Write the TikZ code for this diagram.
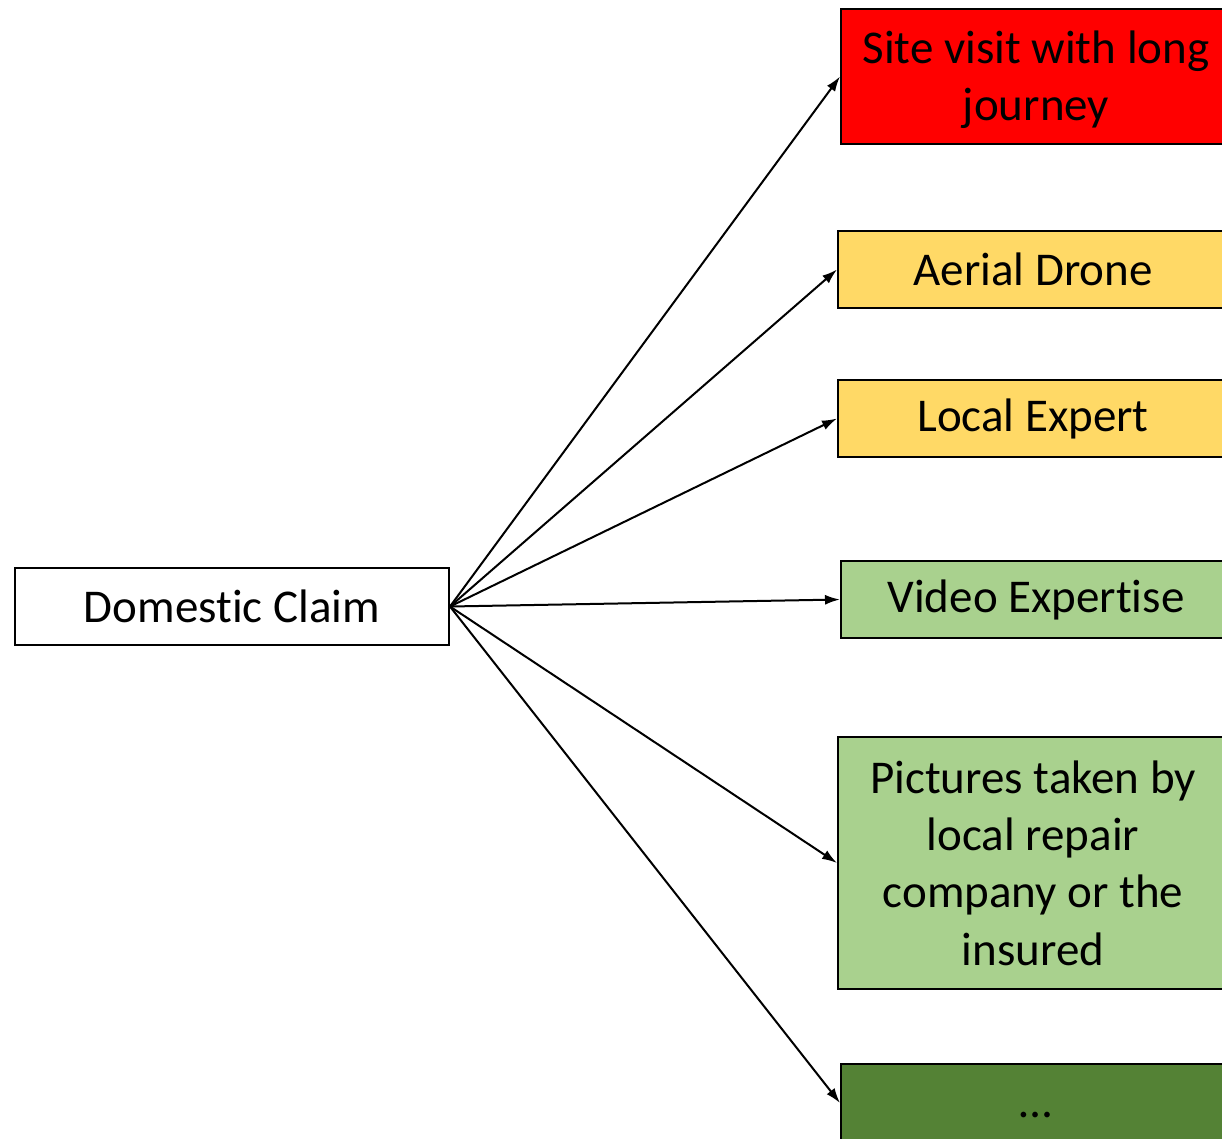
\documentclass[tikz,border=0pt]{standalone}
\usepackage{fontspec}
\setmainfont{Carlito}[RawFeature={-liga;-clig;-dlig;-calt}]
\usetikzlibrary{arrows.meta}
\definecolor{cred}{HTML}{FF0000}
\definecolor{cyel}{HTML}{FFD966}
\definecolor{cgrn}{HTML}{A9D18E}
\definecolor{cdgrn}{HTML}{548235}
\begin{document}
\begin{tikzpicture}[x=1pt,y=-1pt,
  box/.style={draw=black,line width=2pt,anchor=north west,inner sep=0pt,
    minimum width=390pt,align=center,font=\fontsize{47}{57.3}\selectfont},
  conn/.style={line width=2pt,-{Latex[length=15pt,width=10pt]}}]
\useasboundingbox (0,0) rectangle (1222,1138);
\clip (0,0) rectangle (1222,1138);
\node[box,minimum width=434pt,minimum height=77pt] (dc) at (14,567) {Domest\kern0pt ic Claim};
\node[box,fill=cred,minimum height=135pt] (site) at (840,8) {\raisebox{-3pt}[\height][\depth]{\parbox{380pt}{\centering Site visit with long\\journey}}};
\node[box,fill=cyel,minimum height=77pt] (drone) at (837,230) {Aerial Drone};
\node[box,fill=cyel,minimum height=77pt] (expert) at (837,379) {Local Expert};
\node[box,fill=cgrn,minimum height=77pt] (video) at (840,560) {Video Expert\kern0pt ise};
\node[box,fill=cgrn,minimum height=252pt] (pics) at (837,736) {Pictures taken by\\local repair\\company or the\\insured};
\node[box,fill=cdgrn,minimum height=78pt] (more) at (840,1063) {\smash{\raisebox{-14pt}{\dots}}};
\coordinate (src) at (dc.east);
\draw[conn] (src) -- (site.west);
\draw[conn] (src) -- (drone.west);
\draw[conn] (src) -- (expert.west);
\draw[conn] (src) -- (video.west);
\draw[conn] (src) -- (pics.west);
\draw[conn] (src) -- (more.west);
\end{tikzpicture}
\end{document}
